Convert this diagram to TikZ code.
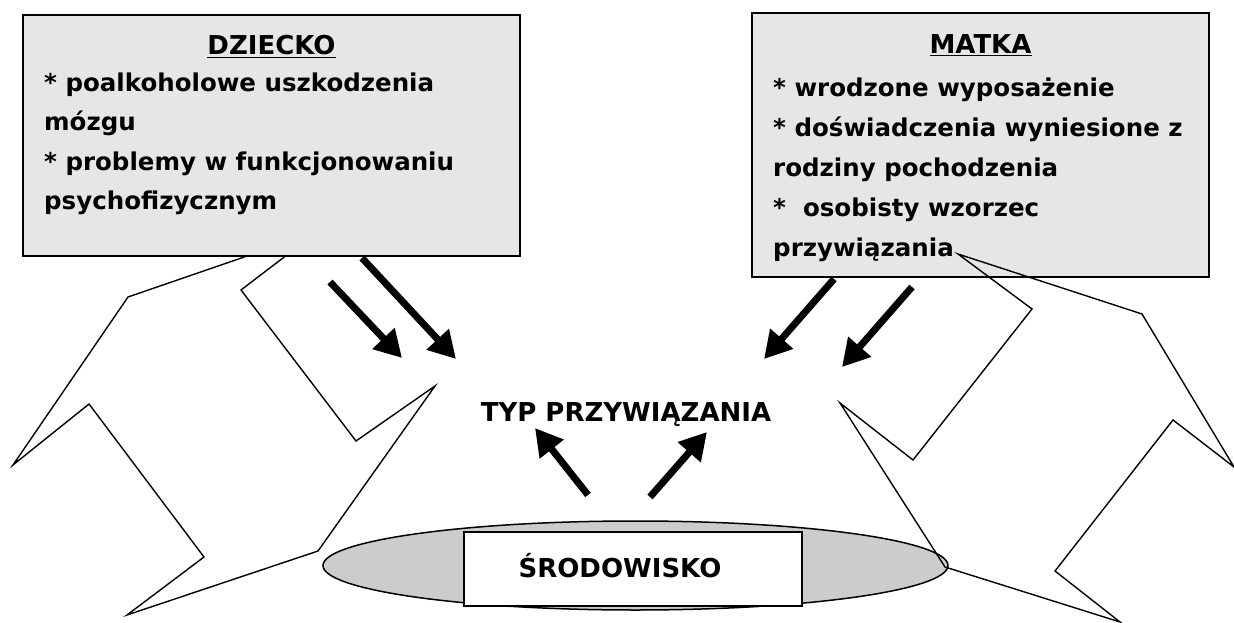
\documentclass[tikz,border=0pt]{standalone}
\usepackage{fontspec}
\setmainfont{DejaVu Sans}
\usetikzlibrary{arrows.meta,shapes.geometric}
\definecolor{boxgray}{HTML}{E6E6E6}
\definecolor{ellgray}{HTML}{CCCCCC}
\tikzset{
  boxstyle/.style={draw, line width=2pt, fill=boxgray, rectangle, inner sep=0pt},
  shapeline/.style={line width=1.4pt, line join=miter},
  bigarrow/.style={line width=7pt, -{Triangle[length=27pt,width=29pt]}},
  txt/.style={inner sep=0pt, anchor=base west, font=\bfseries\fontsize{24.5}{30}\selectfont},
  ttl/.style={inner sep=0pt, anchor=base, font=\bfseries\fontsize{26}{30}\selectfont},
}
\begin{document}
\begin{tikzpicture}[x=1pt,y=-1pt]
\useasboundingbox[fill=white] (0,0) rectangle (1234,623);
% left zigzag shape (behind the box)
\draw[shapeline, fill=white] (317,232) -- (128,297) -- (13,465) -- (89,404) -- (204,557) -- (127,615) -- (318,551) -- (435,386) -- (356,441) -- (241,290) -- cycle;
% boxes
\node[boxstyle, minimum width=497pt, minimum height=241pt] (child) at (271.5,135.5) {};
\node[boxstyle, minimum width=457pt, minimum height=264pt] (mother) at (980.5,145) {};
% child texts
\node[ttl] (ctitle) at (271.5,55) {\underline{DZIECKO}};
\node[txt] (c1) at (44,92) {* poalkoholowe uszkodzenia};
\node[txt] (c2) at (44,131) {mózgu};
\node[txt] (c3) at (44,170) {* problemy w funkcjonowaniu};
\node[txt] (c4) at (44,209) {psychofizycznym};
% mother texts
\node[ttl] (mtitle) at (980.5,54) {\underline{MATKA}};
\node[txt] (m1) at (773,97) {* wrodzone wyposażenie};
\node[txt] (m2) at (773,136) {* doświadczenia wyniesione z};
\node[txt] (m3) at (773,176) {rodziny pochodzenia};
\node[txt] (m4) at (773,216) {*\ \ osobisty wzorzec};
\node[txt] (m5) at (773,256) {przywiązania};
% environment
\node[ellipse, draw, line width=1.5pt, fill=ellgray, minimum width=625pt, minimum height=89pt, inner sep=0pt] (env) at (635.5,565.5) {};
\node[draw, line width=2pt, fill=white, minimum width=338pt, minimum height=74pt, inner sep=0pt] (envbox) at (633,569) {};
\node[ttl] (envtext) at (620,577) {ŚRODOWISKO};
% attachment type
\node[ttl] (typ) at (626,421) {TYP PRZYWIĄZANIA};
% right zigzag shape (outline only, on top)
\draw[shapeline] (958,254) -- (1142,314) -- (1234,467) -- (1173,420) -- (1055,571) -- (1120,622) -- (945,567) -- (840,403) -- (913,460) -- (1032,309) -- cycle;
% arrows
\coordinate (a1s) at (330,282); \coordinate (a1e) at (402,358);
\coordinate (a2s) at (362,258); \coordinate (a2e) at (456,359);
\coordinate (a3s) at (834,279); \coordinate (a3e) at (764,359);
\coordinate (a4s) at (912,287); \coordinate (a4e) at (842,367);
\coordinate (a5s) at (588,495); \coordinate (a5e) at (535,428);
\coordinate (a6s) at (650,497); \coordinate (a6e) at (707,432);
\draw[bigarrow] (a1s) -- (a1e);
\draw[bigarrow] (a2s) -- (a2e);
\draw[bigarrow] (a3s) -- (a3e);
\draw[bigarrow] (a4s) -- (a4e);
\draw[bigarrow] (a5s) -- (a5e);
\draw[bigarrow] (a6s) -- (a6e);
\end{tikzpicture}
\end{document}
